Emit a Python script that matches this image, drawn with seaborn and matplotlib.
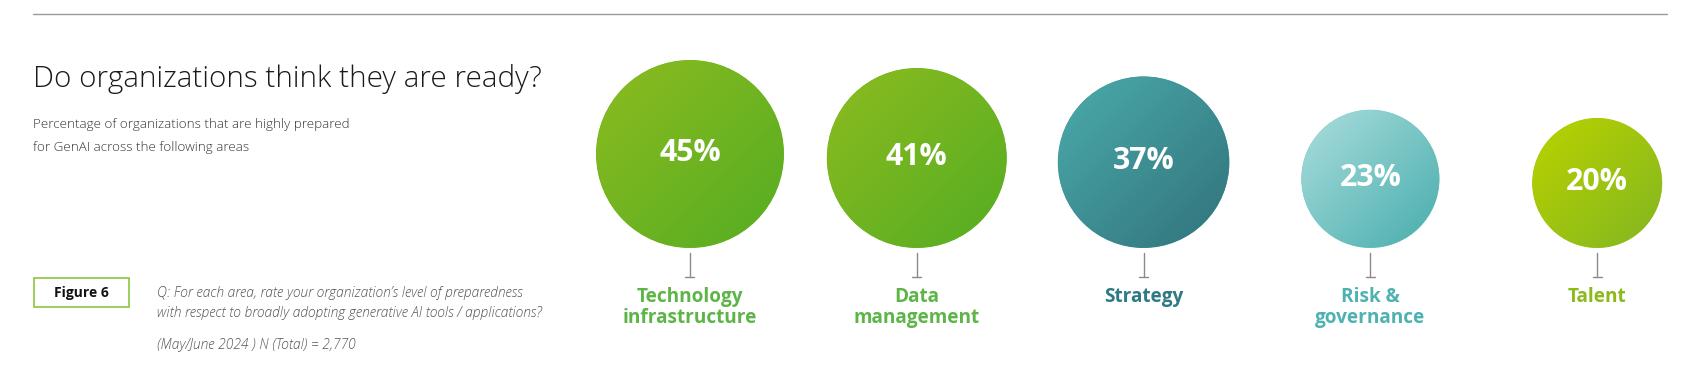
import numpy as np
import pandas as pd
import matplotlib.pyplot as plt
import matplotlib.colors as mcolors
from matplotlib.patches import Circle, Rectangle
import seaborn as sns

# data
areas = ['Technology\ninfrastructure', 'Data\nmanagement', 'Strategy', 'Risk &\ngovernance', 'Talent']
pct = [45, 41, 37, 23, 20]
grad_light = ['#8BBB1F', '#8BBB1F', '#4AA9A9', '#A8DCDC', '#B9D200']
grad_dark = ['#59AE23', '#59AE23', '#33777F', '#4FB1B0', '#86B81F']
label_colors = ['#5DB548', '#5DB548', '#2E7A85', '#4DB2B1', '#8CBA1D']

title = 'Do organizations think they are ready?'
subtitle = ['Percentage of organizations that are highly prepared',
            'for GenAI across the following areas']
question = ['Q: For each area, rate your organization\u2019s level of preparedness',
            'with respect to broadly adopting generative AI tools / applications?']
source = '(May/June 2024 ) N (Total) = 2,770'

sns.set_theme(style='white')
plt.rcParams['font.family'] = ['Open Sans', 'DejaVu Sans']

W, H = 1698, 382
fig = plt.figure(figsize=(W / 100, H / 100), dpi=100)
ax = fig.add_axes([0, 0, 1, 1])

# layout (pixels)
x0, step = 690, 226.8
base_y = 248
r_min, r_max = 65, 94
px2pt = 72 / 100

df = pd.DataFrame({'area': areas, 'pct': pct})
df['x'] = x0 + step * np.arange(len(df))
# area grows linearly with the value, like seaborn's size mapping
vmin, vmax = df['pct'].min(), df['pct'].max()
df['r'] = np.sqrt(r_min ** 2 + (df['pct'] - vmin) / (vmax - vmin) * (r_max ** 2 - r_min ** 2))
df['y'] = base_y - df['r']
size_map = {v: (2 * r * px2pt) ** 2 for v, r in zip(df['pct'], df['r'])}
mid_colors = {a: mcolors.to_hex((np.array(mcolors.to_rgb(l)) + np.array(mcolors.to_rgb(d))) / 2)
              for a, l, d in zip(areas, grad_light, grad_dark)}

sns.scatterplot(data=df, x='x', y='y', size='pct', sizes=size_map, hue='area',
                palette=mid_colors, edgecolor='none', linewidth=0, legend=False,
                ax=ax, zorder=2)

# diagonal gradient fill clipped to each circle
n = 200
u, v = np.meshgrid(np.linspace(0, 1, n), np.linspace(0, 1, n))
t = np.clip((u + v) / 2 * 1.15 - 0.05, 0, 1)
for i, row in df.iterrows():
    c1 = np.array(mcolors.to_rgb(grad_light[i]))
    c2 = np.array(mcolors.to_rgb(grad_dark[i]))
    img = c1[None, None, :] * (1 - t[..., None]) + c2[None, None, :] * t[..., None]
    x, y, r = row['x'], row['y'], row['r']
    im = ax.imshow(img, extent=(x - r, x + r, y + r, y - r), origin='upper',
                   aspect='auto', zorder=3, interpolation='bilinear')
    im.set_clip_path(Circle((x, y), r - 0.3, transform=ax.transData))
    ax.text(x, y - 1, f'{row["pct"]}%', color='white', fontsize=21.8, fontweight='bold',
            ha='center', va='center', zorder=4)
    # stem with small foot
    ax.plot([x, x], [base_y + 5, base_y + 29], color='#8a8a8a', lw=1, zorder=2)
    ax.plot([x - 4.5, x + 4.5], [base_y + 29, base_y + 29], color='#8a8a8a', lw=1, zorder=2)
    ax.text(x, base_y + 39, row['area'], color=label_colors[i], fontsize=13.7,
            fontweight='bold', ha='center', va='top', linespacing=1.07, zorder=4)

# top rule
ax.plot([33.5, 1667], [13.5, 13.5], color='#9a9a9a', lw=1)

# left texts
ax.text(33, 86.5, title, fontsize=21.3, fontweight='light', color='#1a1a1a',
        ha='left', va='baseline')
for k, line in enumerate(subtitle):
    ax.text(33.5, 128 + 23.5 * k, line, fontsize=9.6, fontweight='light', color='#333333',
            ha='left', va='baseline')

ax.add_patch(Rectangle((33.7, 278.3), 95.7, 29, facecolor='white',
                       edgecolor='#8DC63F', lw=1.2, zorder=2))
ax.text(81.5, 293.3, 'Figure 6', fontsize=10, fontweight='bold', color='#111111',
        ha='center', va='center', zorder=3)
for k, line in enumerate(question):
    ax.text(157, 297 + 19.7 * k, line, fontsize=9.9, fontstyle='italic', fontweight='light',
            color='#555555', ha='left', va='baseline')
ax.text(157, 349, source, fontsize=9.9, fontstyle='italic', fontweight='light',
        color='#555555', ha='left', va='baseline')

ax.set_xlim(0, W)
ax.set_ylim(H, 0)
ax.axis('off')

fig.savefig('out.png', dpi=100)
